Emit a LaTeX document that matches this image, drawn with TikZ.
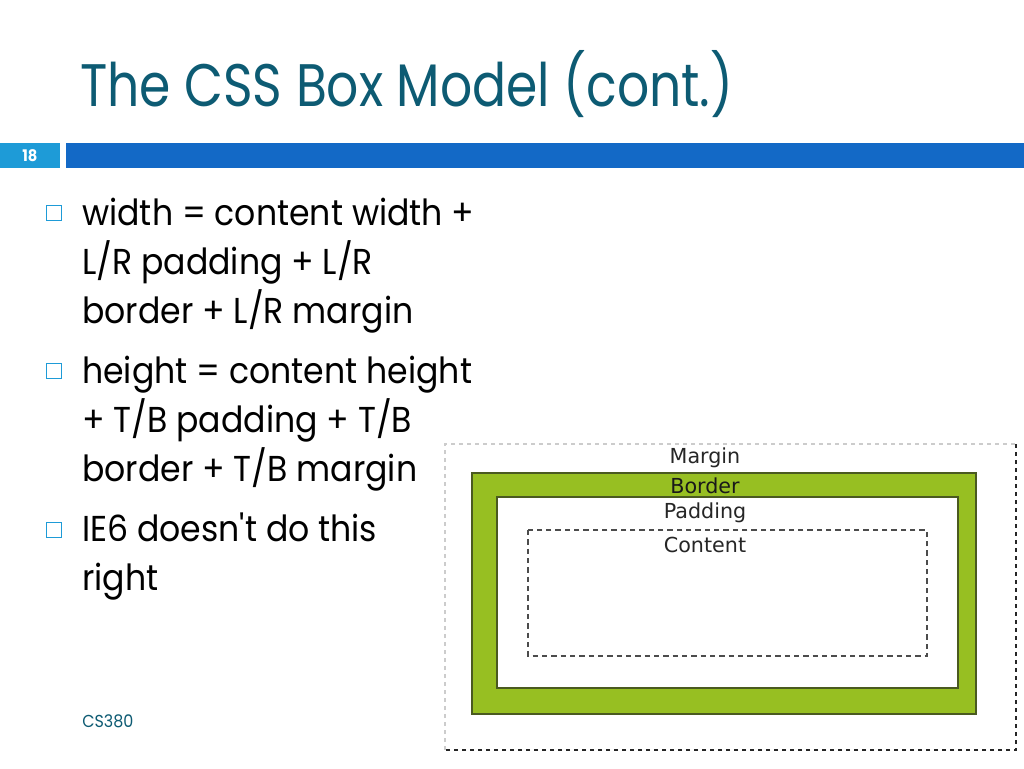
\documentclass[tikz,border=0pt]{standalone}
\usepackage{fontspec}
\setmainfont[FakeStretch=0.92,Ligatures=TeXOff]{Poppins}
\newfontfamily\titlefont[FakeStretch=0.84]{Poppins}
\newfontfamily\boxfont{DejaVu Sans}
\usepackage{xcolor}
\usepackage{tikz}
\usetikzlibrary{positioning}

\definecolor{titleteal}{HTML}{0D5B73}
\definecolor{barblue}{HTML}{1369C6}
\definecolor{tabblue}{HTML}{1E9BD7}
\definecolor{bordergreen}{HTML}{97BF22}
\definecolor{borderedge}{HTML}{4A5A20}

\tikzset{
    bulletbox/.style={draw=tabblue,line width=1.1pt,minimum size=11.5pt,inner sep=0pt},
    bodytext/.style={anchor=base west,inner sep=0pt,align=left,font=\fontsize{27}{36.75}\selectfont},
    boxlabel/.style={inner sep=0pt,font=\boxfont\fontsize{15.5}{18}\selectfont},
    contentedge/.style={draw=black!70,dashed,line width=0.8pt,dash pattern=on 4pt off 3pt}
}

\begin{document}
\begin{tikzpicture}[x=0.75pt,y=-0.75pt]
    \useasboundingbox (0,0) rectangle (1024,768);
    \fill[white] (0,0) rectangle (1024,768);

    % title and bar
    \node[anchor=base west,inner sep=0pt,text=titleteal,font=\titlefont\fontsize{45}{50}\selectfont] (title) at (80,106) {The CSS Box Model (cont.)};
    \fill[tabblue] (0,143) rectangle (60,168);
    \fill[barblue] (66,143) rectangle (1024,168);
    \node[text=white,font=\bfseries\fontsize{12}{14}\selectfont] (slideno) at (30,156) {18};

    % bullets (base of the last line)
    \node[bulletbox] (b1) at (54,213) {};
    \node[bulletbox] (b2) at (54,371) {};
    \node[bulletbox] (b3) at (54,530) {};
    \node[bodytext] (t1) at (82,323) {width = content width +\\L/R padding + L/R\\border + L/R margin};
    \node[bodytext] (t2) at (82,481) {height = content height\\+ T/B padding + T/B\\border + T/B margin};
    \node[bodytext] (t3) at (82,590) {IE6 doesn't do this\\right};

    % footer
    \node[anchor=base west,inner sep=0pt,text=titleteal,font=\fontsize{13}{15}\selectfont] (footer) at (82,727) {CS380};

    % box model
    \draw[black!20,dashed,line width=0.8pt] (445,750) -- (445,444) -- (1016,444);
    \draw[black!85,dashed,line width=0.9pt] (1016,444) -- (1016,750) -- (445,750);
    \filldraw[fill=bordergreen,draw=borderedge,line width=1pt] (472,473) rectangle (976,714);
    \filldraw[fill=white,draw=borderedge,line width=1pt] (497,497) rectangle (958,688);
    \draw[contentedge] (528,530) rectangle (927,656);

    \node[boxlabel,text=black!85] (marginlbl) at (705,458) {Margin};
    \node[boxlabel,text=black!90] (borderlbl) at (705,486) {Border};
    \node[boxlabel,text=black!85] (paddinglbl) at (705,513) {Padding};
    \node[boxlabel,text=black!85] (contentlbl) at (705,545) {Content};
\end{tikzpicture}
\end{document}
